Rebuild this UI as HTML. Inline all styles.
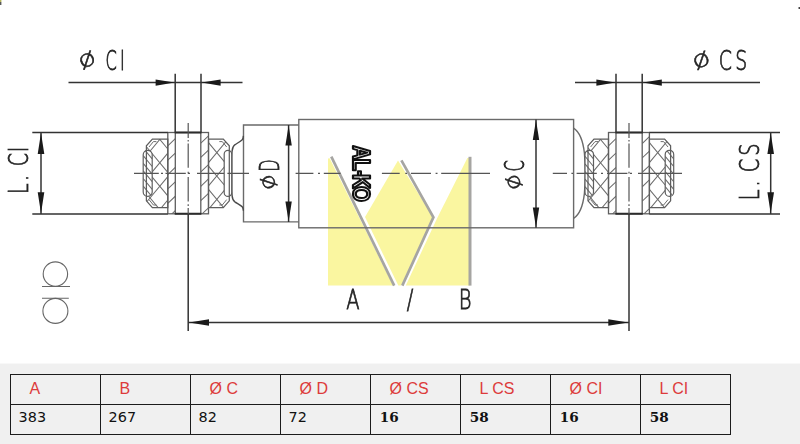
<!DOCTYPE html>
<html lang="en">
<head>
<meta charset="utf-8">
<title>AL-KO shock absorber dimensions</title>
<style>
html,body{margin:0;padding:0;background:#fff;}
body{width:800px;height:444px;position:relative;overflow:hidden;font-family:"Liberation Sans","DejaVu Sans",sans-serif;}
.band{position:absolute;left:0;top:363px;width:800px;height:80px;background:#f0f0f0;border-top:1px solid #f8f8f8;}
table{position:absolute;left:10px;top:10px;border-collapse:collapse;table-layout:fixed;width:721px;}
th,td{border:1px solid #1c1c1c;width:89px;padding:0;text-align:left;white-space:nowrap;overflow:hidden;}
th{height:27px;padding-bottom:2px;font:normal 16px/27px "Liberation Sans","DejaVu Sans",sans-serif;color:#dd3b3b;padding-left:18.5px;width:70.5px;}
td{height:25.5px;padding-bottom:3px;font:normal 14.4px/25px "DejaVu Sans","Liberation Sans",sans-serif;color:#111;padding-left:7.6px;width:81.4px;}
td.b{font:bold 13.6px/25px "DejaVu Serif","Liberation Serif",serif;padding-left:8.8px;width:80.2px;}
svg text{white-space:pre;}
.t{font-family:"DejaVu Sans Light","DejaVu Sans","Liberation Sans",sans-serif;font-weight:200;fill:#242424;stroke:#242424;stroke-width:.7px;vector-effect:non-scaling-stroke;}
.p{stroke-width:.6px;}
.k{font-family:"Liberation Sans","DejaVu Sans",sans-serif;font-weight:bold;fill:#fff;stroke:#111;stroke-width:2.1px;stroke-linejoin:round;vector-effect:non-scaling-stroke;}
</style>
</head>
<body>
<svg width="800" height="364" viewBox="0 0 800 364" style="position:absolute;left:0;top:0;filter:blur(.3px)">
<g>
<polygon points="328,158.6 329.6,158.2 393.2,285.6 328,285.6" fill="#faf6a0"/>
<polygon points="398,160.6 365,217 398.3,285.6 401.2,285.6 433,217.3" fill="#faf6a0"/>
<polygon points="467.4,158 469.6,158 469.6,285.6 405.8,285.6 437,218.5" fill="#faf6a0"/>
<path d="M331.3,156.6 L394.2,285.6" stroke="#a6a5a2" stroke-width="2.7" fill="none"/>
<path d="M401.4,160.4 L433.4,217.3 L402.3,285.6" stroke="#a6a5a2" stroke-width="2.7" fill="none" stroke-linejoin="miter"/>
<path d="M470,156.8 V285.6" stroke="#a6a5a2" stroke-width="3" fill="none"/>
</g>
<g fill="none" stroke="#6a6a6a" stroke-width="1.4">
<rect x="298.8" y="119.5" width="274.8" height="108.3"/>
<path d="M298.8,125 H243.5 V221.9 H298.8"/>
<path d="M243.4,135.9 C243.3,138 242.9,139 242.2,139.8 C240.5,141.6 237,143.3 234.8,144.8 C233,146.2 232.3,148.5 232.1,151 C231.9,153 231.8,155 231.8,157 L231.8,189.6 C231.8,191.6 231.9,193.6 232.1,195.6 C232.3,198.1 233,200.4 234.8,201.8 C237,203.3 240.5,205 242.2,206.8 C242.9,207.6 243.3,208.6 243.4,210.7" stroke="#4a4a4a"/>
<path d="M573.6,128.2 C579.5,132 583,141 584.4,153 C585.1,161 585.3,167 585.3,173.3 C585.3,179.6 585.1,185.6 584.4,193.6 C583,205.6 579.5,214.6 573.6,218.4"/>
</g>
<clipPath id="arl"><polygon points="167.8,139 152.4,139 146.4,145.8 146.4,200.8 152.4,207.6 167.8,207.6"/></clipPath>
<clipPath id="arr"><polygon points="208.5,139 223.3,139 229.3,145.8 229.3,200.8 223.3,207.6 208.5,207.6"/></clipPath>
<clipPath id="asl"><rect x="167.8" y="132.5" width="7.5" height="81.3"/></clipPath>
<clipPath id="asr"><rect x="200.8" y="132.5" width="7.7" height="81.3"/></clipPath>
<clipPath id="awl"><path d="M143.2,154.8 A4.5,4.5 0 0 1 152.2,154.8 L152.2,191.9 A4.5,4.5 0 0 1 143.2,191.9 Z"/></clipPath>
<clipPath id="awr"><path d="M224.2,154.05 A3.75,3.75 0 0 1 231.7,154.05 L231.7,192.65 A3.75,3.75 0 0 1 224.2,192.65 Z"/></clipPath>
<path clip-path="url(#arl)" d="M146.4,99.92 L167.8,125.6 M146.4,123.32 L167.8,149 M146.4,146.72 L167.8,172.4 M146.4,170.12 L167.8,195.8 M146.4,193.52 L167.8,219.2 M146.4,216.92 L167.8,242.6 M146.4,240.32 L167.8,266" stroke="#6e6e6e" stroke-width="1.05" fill="none"/>
<path clip-path="url(#arl)" d="M146.4,108.68 L167.8,83 M146.4,132.08 L167.8,106.4 M146.4,155.48 L167.8,129.8 M146.4,178.88 L167.8,153.2 M146.4,202.28 L167.8,176.6 M146.4,225.68 L167.8,200 M146.4,249.08 L167.8,223.4" stroke="#6e6e6e" stroke-width="1.05" fill="none"/>
<path clip-path="url(#arr)" d="M208.5,95.84 L229.3,120.8 M208.5,119.24 L229.3,144.2 M208.5,142.64 L229.3,167.6 M208.5,166.04 L229.3,191 M208.5,189.44 L229.3,214.4 M208.5,212.84 L229.3,237.8 M208.5,236.24 L229.3,261.2" stroke="#6e6e6e" stroke-width="1.05" fill="none"/>
<path clip-path="url(#arr)" d="M208.5,92.36 L229.3,67.4 M208.5,115.76 L229.3,90.8 M208.5,139.16 L229.3,114.2 M208.5,162.56 L229.3,137.6 M208.5,185.96 L229.3,161 M208.5,209.36 L229.3,184.4 M208.5,232.76 L229.3,207.8" stroke="#6e6e6e" stroke-width="1.05" fill="none"/>
<path d="M143.2,154.8 A4.5,4.5 0 0 1 152.2,154.8 L152.2,191.9 A4.5,4.5 0 0 1 143.2,191.9 Z" fill="#fff" stroke="none"/>
<path d="M224.2,154.05 A3.75,3.75 0 0 1 231.7,154.05 L231.7,192.65 A3.75,3.75 0 0 1 224.2,192.65 Z" fill="#fff" stroke="none"/>
<path clip-path="url(#awl)" d="M143.2,132.9 L152.2,143.7 M143.2,140.5 L152.2,151.3 M143.2,148.1 L152.2,158.9 M143.2,155.7 L152.2,166.5 M143.2,163.3 L152.2,174.1 M143.2,170.9 L152.2,181.7 M143.2,178.5 L152.2,189.3 M143.2,186.1 L152.2,196.9 M143.2,193.7 L152.2,204.5 M143.2,201.3 L152.2,212.1 M143.2,208.9 L152.2,219.7" stroke="#6e6e6e" stroke-width="1.05" fill="none"/>
<path d="M143.2,154.8 A4.5,4.5 0 0 1 152.2,154.8 L152.2,191.9 A4.5,4.5 0 0 1 143.2,191.9 Z" fill="none" stroke="#5e5e5e" stroke-width="1.2"/>
<path d="M224.2,154.05 A3.75,3.75 0 0 1 231.7,154.05 L231.7,192.65 A3.75,3.75 0 0 1 224.2,192.65 Z" fill="none" stroke="#5e5e5e" stroke-width="1.2"/>
<path clip-path="url(#asl)" d="M167.8,116.97 L175.3,109.85 M167.8,131.38 L175.3,124.25 M167.8,145.78 L175.3,138.65 M167.8,160.18 L175.3,153.05 M167.8,174.58 L175.3,167.45 M167.8,188.98 L175.3,181.85 M167.8,203.38 L175.3,196.25 M167.8,217.78 L175.3,210.65 M167.8,232.18 L175.3,225.05" stroke="#6e6e6e" stroke-width="1.05" fill="none"/>
<path clip-path="url(#asr)" d="M200.8,114.29 L208.5,106.97 M200.8,128.69 L208.5,121.37 M200.8,143.09 L208.5,135.77 M200.8,157.49 L208.5,150.17 M200.8,171.89 L208.5,164.57 M200.8,186.29 L208.5,178.97 M200.8,200.69 L208.5,193.37 M200.8,215.09 L208.5,207.77 M200.8,229.49 L208.5,222.17" stroke="#6e6e6e" stroke-width="1.05" fill="none"/>
<polygon points="167.8,139 152.4,139 146.4,145.8 146.4,200.8 152.4,207.6 167.8,207.6" fill="none" stroke="#5e5e5e" stroke-width="1.25"/>
<polygon points="208.5,139 223.3,139 229.3,145.8 229.3,200.8 223.3,207.6 208.5,207.6" fill="none" stroke="#5e5e5e" stroke-width="1.25"/>
<path d="M156.4,141.6 L153.4,141.6 L149,147 M156.4,205 L153.4,205 L149,199.6" fill="none" stroke="#6e6e6e" stroke-width="1"/>
<path d="M219.3,141.6 L222.3,141.6 L226.7,147 M219.3,205 L222.3,205 L226.7,199.6" fill="none" stroke="#6e6e6e" stroke-width="1"/>
<rect x="167.8" y="132.5" width="40.7" height="81.3" fill="none" stroke="#5e5e5e" stroke-width="1.3"/>
<path d="M175.3,132.5 V213.8 M200.8,132.5 V213.8" stroke="#5e5e5e" stroke-width="1.3" fill="none"/>
<path d="M174.7,132.5 H201.4 M174.7,213.8 H201.4" stroke="#2c2c2c" stroke-width="2" fill="none"/>
<clipPath id="brl"><polygon points="608.5,139 594,139 588,145.8 588,200.8 594,207.6 608.5,207.6"/></clipPath>
<clipPath id="brr"><polygon points="649.4,139 664.6,139 670.6,145.8 670.6,200.8 664.6,207.6 649.4,207.6"/></clipPath>
<clipPath id="bsl"><rect x="608.5" y="132.5" width="7.5" height="81.3"/></clipPath>
<clipPath id="bsr"><rect x="642.2" y="132.5" width="7.2" height="81.3"/></clipPath>
<clipPath id="bwl"><path d="M585,154.55 A4.25,4.25 0 0 1 593.5,154.55 L593.5,192.15 A4.25,4.25 0 0 1 585,192.15 Z"/></clipPath>
<clipPath id="bwr"><path d="M665.2,154.55 A4.25,4.25 0 0 1 673.7,154.55 L673.7,192.15 A4.25,4.25 0 0 1 665.2,192.15 Z"/></clipPath>
<path clip-path="url(#brl)" d="M588,101 L608.5,125.6 M588,124.4 L608.5,149 M588,147.8 L608.5,172.4 M588,171.2 L608.5,195.8 M588,194.6 L608.5,219.2 M588,218 L608.5,242.6 M588,241.4 L608.5,266" stroke="#6e6e6e" stroke-width="1.05" fill="none"/>
<path clip-path="url(#brl)" d="M588,107.6 L608.5,83 M588,131 L608.5,106.4 M588,154.4 L608.5,129.8 M588,177.8 L608.5,153.2 M588,201.2 L608.5,176.6 M588,224.6 L608.5,200 M588,248 L608.5,223.4" stroke="#6e6e6e" stroke-width="1.05" fill="none"/>
<path clip-path="url(#brr)" d="M649.4,95.84 L670.6,121.28 M649.4,119.24 L670.6,144.68 M649.4,142.64 L670.6,168.08 M649.4,166.04 L670.6,191.48 M649.4,189.44 L670.6,214.88 M649.4,212.84 L670.6,238.28 M649.4,236.24 L670.6,261.68" stroke="#6e6e6e" stroke-width="1.05" fill="none"/>
<path clip-path="url(#brr)" d="M649.4,92.36 L670.6,66.92 M649.4,115.76 L670.6,90.32 M649.4,139.16 L670.6,113.72 M649.4,162.56 L670.6,137.12 M649.4,185.96 L670.6,160.52 M649.4,209.36 L670.6,183.92 M649.4,232.76 L670.6,207.32 M649.4,256.16 L670.6,230.72" stroke="#6e6e6e" stroke-width="1.05" fill="none"/>
<path d="M585,154.55 A4.25,4.25 0 0 1 593.5,154.55 L593.5,192.15 A4.25,4.25 0 0 1 585,192.15 Z" fill="#fff" stroke="none"/>
<path d="M665.2,154.55 A4.25,4.25 0 0 1 673.7,154.55 L673.7,192.15 A4.25,4.25 0 0 1 665.2,192.15 Z" fill="#fff" stroke="none"/>
<path clip-path="url(#bwl)" d="M585,133.5 L593.5,143.7 M585,141.1 L593.5,151.3 M585,148.7 L593.5,158.9 M585,156.3 L593.5,166.5 M585,163.9 L593.5,174.1 M585,171.5 L593.5,181.7 M585,179.1 L593.5,189.3 M585,186.7 L593.5,196.9 M585,194.3 L593.5,204.5 M585,201.9 L593.5,212.1 M585,209.5 L593.5,219.7" stroke="#6e6e6e" stroke-width="1.05" fill="none"/>
<path clip-path="url(#bwr)" d="M665.2,133.5 L673.7,143.7 M665.2,141.1 L673.7,151.3 M665.2,148.7 L673.7,158.9 M665.2,156.3 L673.7,166.5 M665.2,163.9 L673.7,174.1 M665.2,171.5 L673.7,181.7 M665.2,179.1 L673.7,189.3 M665.2,186.7 L673.7,196.9 M665.2,194.3 L673.7,204.5 M665.2,201.9 L673.7,212.1 M665.2,209.5 L673.7,219.7" stroke="#6e6e6e" stroke-width="1.05" fill="none"/>
<path d="M585,154.55 A4.25,4.25 0 0 1 593.5,154.55 L593.5,192.15 A4.25,4.25 0 0 1 585,192.15 Z" fill="none" stroke="#5e5e5e" stroke-width="1.2"/>
<path d="M665.2,154.55 A4.25,4.25 0 0 1 673.7,154.55 L673.7,192.15 A4.25,4.25 0 0 1 665.2,192.15 Z" fill="none" stroke="#5e5e5e" stroke-width="1.2"/>
<path clip-path="url(#bsl)" d="M608.5,116.97 L616,109.85 M608.5,131.38 L616,124.25 M608.5,145.78 L616,138.65 M608.5,160.18 L616,153.05 M608.5,174.58 L616,167.45 M608.5,188.98 L616,181.85 M608.5,203.38 L616,196.25 M608.5,217.78 L616,210.65 M608.5,232.18 L616,225.05" stroke="#6e6e6e" stroke-width="1.05" fill="none"/>
<path clip-path="url(#bsr)" d="M642.2,114.76 L649.4,107.92 M642.2,129.16 L649.4,122.32 M642.2,143.56 L649.4,136.72 M642.2,157.96 L649.4,151.12 M642.2,172.36 L649.4,165.52 M642.2,186.76 L649.4,179.92 M642.2,201.16 L649.4,194.32 M642.2,215.56 L649.4,208.72 M642.2,229.96 L649.4,223.12" stroke="#6e6e6e" stroke-width="1.05" fill="none"/>
<polygon points="608.5,139 594,139 588,145.8 588,200.8 594,207.6 608.5,207.6" fill="none" stroke="#5e5e5e" stroke-width="1.25"/>
<polygon points="649.4,139 664.6,139 670.6,145.8 670.6,200.8 664.6,207.6 649.4,207.6" fill="none" stroke="#5e5e5e" stroke-width="1.25"/>
<path d="M598,141.6 L595,141.6 L590.6,147 M598,205 L595,205 L590.6,199.6" fill="none" stroke="#6e6e6e" stroke-width="1"/>
<path d="M660.6,141.6 L663.6,141.6 L668,147 M660.6,205 L663.6,205 L668,199.6" fill="none" stroke="#6e6e6e" stroke-width="1"/>
<rect x="608.5" y="132.5" width="40.9" height="81.3" fill="none" stroke="#5e5e5e" stroke-width="1.3"/>
<path d="M616,132.5 V213.8 M642.2,132.5 V213.8" stroke="#5e5e5e" stroke-width="1.3" fill="none"/>
<path d="M615.4,132.5 H642.8 M615.4,213.8 H642.8" stroke="#2c2c2c" stroke-width="2" fill="none"/>
<g fill="none" stroke="#333333" stroke-width="1.5">
<path d="M32.3,132.5 H167.8 M32.3,213.9 H167.8 M41,132.5 V213.9"/>
<path d="M649.4,132.5 H780 M649.4,213.9 H780 M770.7,132.5 V213.9"/>
<path d="M175.2,73.8 V132.5 M201,73.8 V132.5 M68.5,82.6 H242.5"/>
<path d="M616,73.8 V132.5 M642.2,73.8 V132.5 M575,82.6 H760"/>
<path d="M288.6,125 V221.9 M536,119.5 V227.8"/>
<path d="M188.2,213.8 V331 M629,213.8 V331 M188.2,322.5 H629"/>
</g>
<polygon points="41,133 37.7,154 44.3,154" fill="#1a1a1a"/>
<polygon points="41,213.3 37.7,192.3 44.3,192.3" fill="#1a1a1a"/>
<polygon points="770.7,133 767.4,154 774,154" fill="#1a1a1a"/>
<polygon points="770.7,213.3 767.4,192.3 774,192.3" fill="#1a1a1a"/>
<polygon points="174.6,82.6 155.6,79.4 155.6,85.8" fill="#1a1a1a"/>
<polygon points="201.6,82.6 220.6,79.4 220.6,85.8" fill="#1a1a1a"/>
<polygon points="615.4,82.6 596.4,79.4 596.4,85.8" fill="#1a1a1a"/>
<polygon points="642.8,82.6 661.8,79.4 661.8,85.8" fill="#1a1a1a"/>
<polygon points="288.6,125.4 285.4,145.4 291.8,145.4" fill="#1a1a1a"/>
<polygon points="288.6,221.5 285.4,201.5 291.8,201.5" fill="#1a1a1a"/>
<polygon points="536,119.9 532.8,139.9 539.2,139.9" fill="#1a1a1a"/>
<polygon points="536,227.4 532.8,207.4 539.2,207.4" fill="#1a1a1a"/>
<polygon points="189,322.5 209,319.2 209,325.8" fill="#1a1a1a"/>
<polygon points="628.3,322.5 608.3,319.2 608.3,325.8" fill="#1a1a1a"/>
<path d="M134,173.3 H158.8 M161,173.3 H163 M165.5,173.3 H185.8 M188,173.3 H190 M197,173.3 H224 M227.4,173.3 H249 M295.6,173.3 H313.4 M318,173.3 H320 M323.8,173.3 H340.6 M381.9,173.3 H399.7 M405.3,173.3 H407 M411,173.3 H431 M435.6,173.3 H437.5 M441.2,173.3 H490 M552.8,173.3 H567 M571.4,173.3 H573 M576.6,173.3 H596.8 M601,173.3 H603 M607,173.3 H627.4 M630,173.3 H632 M638,173.3 H682" stroke="#555" stroke-width="1.2" fill="none"/>
<path d="M188.2,123 V138 M188.2,140 V141.6 M188.2,143.4 V167.7 M188.2,171.8 V173.6 M188.2,177 V201.5 M188.2,204.3 V206 M188.2,208 V214" stroke="#555" stroke-width="1.2" fill="none"/>
<path d="M629,123 V138 M629,140 V141.6 M629,143.4 V167.7 M629,171.8 V173.6 M629,177 V201.5 M629,204.3 V206 M629,208 V214" stroke="#555" stroke-width="1.2" fill="none"/>
<g fill="none" stroke="#666" stroke-width="1.1"><circle cx="55.4" cy="274.1" r="12.2"/><circle cx="55.4" cy="310.9" r="12.5"/><path d="M42,286.5 H70 M42,298.2 H68.8"/></g>
<text transform="translate(0,70) scale(0.6,1)" x="175.68 200.04" y="0" font-size="27" class="t" xml:space="preserve">CI</text>
<text transform="translate(0,70) scale(0.7,1)" x="1026.9 1050.19" y="0" font-size="27" class="t" xml:space="preserve">CS</text>
<text transform="translate(0,309.3) scale(0.75,1)" x="461.68 541.29 542.29 610.7 611.7" y="0" font-size="26" class="t" xml:space="preserve">A / B</text>
<text transform="translate(28,192.5) rotate(-90) scale(0.7,1)" x="-2.1 16.29 36.47 37.47 57.62" y="0" font-size="27" class="t" xml:space="preserve">L. CI</text>
<text transform="translate(759.1,198.8) rotate(-90) scale(0.72,1)" x="-1.87 16.97 35.99 36.99 59.87" y="0" font-size="27" class="t" xml:space="preserve">L. CS</text>
<text transform="translate(278.6,170) rotate(-90) scale(0.6,1)" x="-2.99" y="0" font-size="27" class="t" xml:space="preserve">D</text>
<text transform="translate(524.4,170) rotate(-90) scale(0.6,1)" x="-2.57" y="0" font-size="27" class="t" xml:space="preserve">C</text>
<text transform="translate(87.1,60.2) rotate(-28) scale(1.27,1)" x="-6.99" y="6.21" font-size="22.88" class="t p">ø</text>
<text transform="translate(701.4,60.4) rotate(-28) scale(1.29,1)" x="-7.09" y="6.31" font-size="23.22" class="t p">ø</text>
<text transform="translate(268.7,182.2) rotate(-118) scale(1.25,1)" x="-6.41" y="5.69" font-size="20.97" class="t p">ø</text>
<text transform="translate(514,182) rotate(-118) scale(1.26,1)" x="-6.41" y="5.69" font-size="20.97" class="t p">ø</text>
<text transform="translate(353.2,144.7) rotate(90) scale(0.86,1)" x="0.83 16.45 29.87 34.44 48.2" y="0" font-size="23.2" class="k" xml:space="preserve">AL-KO</text>
<circle cx="799.3" cy="8" r="1" fill="#333"/>
<rect x="0" y="0" width="1.4" height="2" fill="#b5b55c"/><rect x="0" y="2" width="1.4" height="3" fill="#5a5a5a"/>
</svg>
<div class="band">
<table><tr><th>A</th><th>B</th><th>Ø C</th><th>Ø D</th><th>Ø CS</th><th>L CS</th><th>Ø CI</th><th>L CI</th></tr><tr><td>383</td><td>267</td><td>82</td><td>72</td><td class="b">16</td><td class="b">58</td><td class="b">16</td><td class="b">58</td></tr></table>
</div>
</body>
</html>
